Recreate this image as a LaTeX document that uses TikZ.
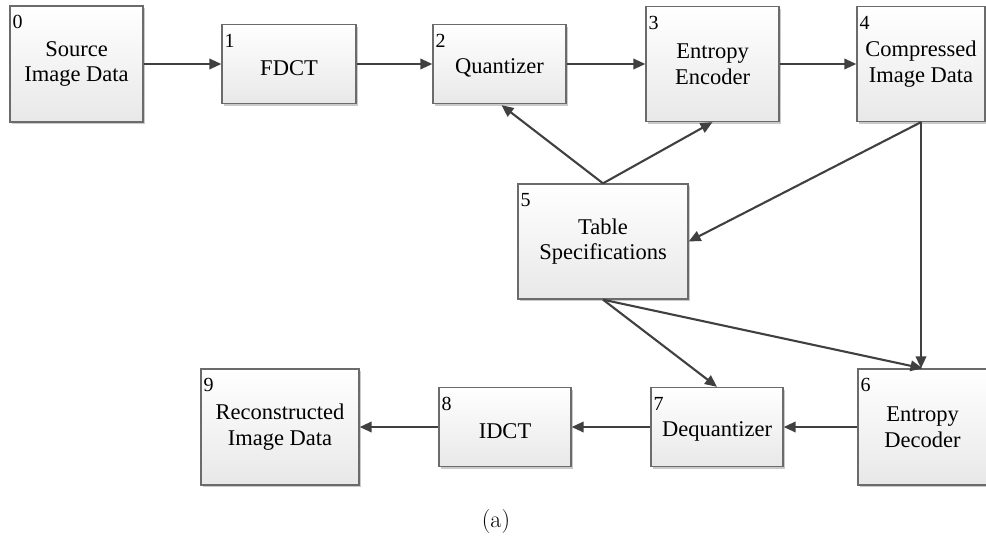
\documentclass[tikz,border=0pt]{standalone}
\usepackage{fontspec}
\newfontfamily\boxfont{Liberation Serif}
\usetikzlibrary{arrows.meta,calc,shadows}

% single-line labels sit a little below the box centre
\newcommand{\lowtext}[1]{\raisebox{-4pt}[\height][\depth]{#1}}

\tikzset{
  stagebox/.style={
    rectangle, draw=black!58, line width=1.3pt,
    top color=white, bottom color=black!9,
    drop shadow={shadow xshift=2.2pt, shadow yshift=-2.2pt, fill=black!35, opacity=.6},
    align=center, inner sep=0pt,
    font=\boxfont\fontsize{22.5}{25.5}\selectfont
  },
  stagenum/.style={anchor=base west, inner sep=0pt,
    font=\boxfont\fontsize{20}{22}\selectfont},
  flow/.style={draw=black!75, line width=2.1pt,
    -{Triangle[length=12pt,width=10.5pt]}}
}

\begin{document}
\begin{tikzpicture}[x=1pt,y=-1pt]
\useasboundingbox (0,0) rectangle (986,543);

% encoder chain
\node[stagebox, minimum width=133pt, minimum height=116pt] (n0) at (76.5,64) {Source\\Image Data};
\node[stagebox, minimum width=134pt, minimum height=79pt] (n1) at (289,64) {\lowtext{FDCT}};
\node[stagebox, minimum width=133pt, minimum height=79pt] (n2) at (499.5,64) {\lowtext{Quantizer}};
\node[stagebox, minimum width=133pt, minimum height=115pt] (n3) at (712.5,64) {Entropy\\Encoder};
\node[stagebox, minimum width=128pt, minimum height=115pt] (n4) at (921,64) {Compressed\\Image Data};

% shared tables
\node[stagebox, minimum width=170pt, minimum height=115pt] (n5) at (603,241.5) {Table\\Specifications};

% decoder chain
\node[stagebox, minimum width=129pt, minimum height=116pt] (n6) at (922.5,427) {Entropy\\Decoder};
\node[stagebox, minimum width=132pt, minimum height=79pt] (n7) at (717,427) {\lowtext{Dequantizer}};
\node[stagebox, minimum width=132pt, minimum height=79pt] (n8) at (505,427) {\lowtext{IDCT}};
\node[stagebox, minimum width=158pt, minimum height=116pt] (n9) at (280,427) {Reconstructed\\Image Data};

% stage numbers in the upper left corners
\foreach \k in {0,...,9}{
  \node[stagenum] (l\k) at ($(n\k.north west)+(3,23.5)$) {\k};
}

% connectors
\draw[flow] (n0) -- (n1);
\draw[flow] (n1) -- (n2);
\draw[flow] (n2) -- (n3);
\draw[flow] (n3) -- (n4);
\draw[flow] (n5.north) -- ($(n2.south)+(2,1)$);
\draw[flow] (n5.north) -- (n3.south);
\draw[flow] (n4.south) -- (n5.east);
\draw[flow] (n4.south) -- (n4.south |- n6.north);
\draw[flow] (n5.south) -- (n6.north);
\draw[flow] (n5.south) -- (n7.north);
\draw[flow] (n6.west) -- (n7.east);
\draw[flow] (n7.west) -- (n8.east);
\draw[flow] (n8.west) -- (n9.east);

% caption
\node[font=\fontsize{24}{28}\selectfont] (cap) at (496,522) {(a)};
\end{tikzpicture}
\end{document}
